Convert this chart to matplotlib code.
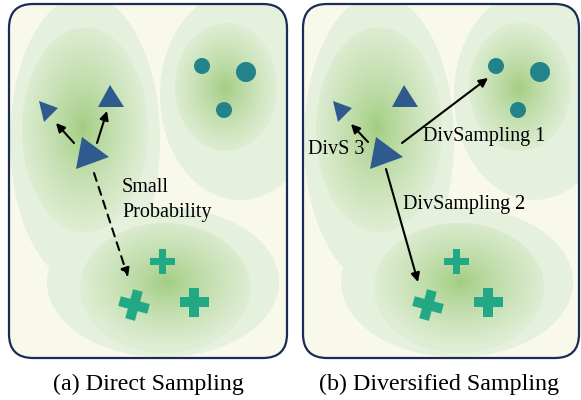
import numpy as np
import matplotlib
matplotlib.use('Agg')
import matplotlib.pyplot as plt
from matplotlib.patches import FancyBboxPatch, Ellipse, Polygon, Circle

plt.rcParams['font.family'] = ['Liberation Serif', 'DejaVu Serif']

# panel frames (pixels)
panel_x = [9, 303]
panel_y = 4
panel_w = [278, 276]
panel_h = 354
offsets = [0, 294]          # panel (b) repeats the layout of (a)
captions = ['(a) Direct Sampling', '(b) Diversified Sampling']
caption_x = [148, 439]
caption_y = 384

# light outer blobs: cx, cy, w, h   (panel a coords)
outer_blobs = [(85, 140, 150, 290), (240, 95, 160, 210), (163, 282, 232, 150)]
# gradient blobs: cx, cy, w, h, gx, gy
inner_blobs = [(85, 130, 126, 205, 83, 128),
               (226, 87, 102, 128, 225, 88),
               (165, 288, 170, 130, 167, 282)]

# triangles (vertices)
triangles = [[(82, 137), (109, 157), (76, 169)],
             [(39, 101), (58, 108), (44, 122)],
             [(110, 85), (124, 107), (98, 107)]]
# circles: x, y, r
circles_x = [202, 246, 224]
circles_y = [66, 72, 110]
circles_r = [8, 10, 8]
# crosses: x, y, size, thickness, angle
crosses_x = [162, 194, 134]
crosses_y = [261, 302, 305]
crosses_s = [25, 29, 30]
crosses_t = [7, 10, 10]
crosses_a = [0, 0, 15]

# arrows in (a)
arrows_a = [((74, 143), (56, 123)), ((97, 143), (107, 111))]
dashed_a = ((94, 173), (128, 277))
label_a = ['Small', 'Probability']
label_a_x = 122
label_a_y = [188, 213]

# arrows and labels in (b) (absolute pixels)
arrows_b = [((402, 143), (488, 78)), ((368, 142), (351, 124)), ((386, 169), (418, 282))]
labels_b = ['DivSampling 1', 'DivS 3', 'DivSampling 2']
labels_b_xy = [(423, 137), (308, 149), (403, 205)]

bg = '#f8f8eb'
outer_col = np.array([229, 240, 221]) / 255
edge_col = np.array([222, 237, 211]) / 255
center_col = np.array([160, 204, 128]) / 255
tri_col = '#2e5a8e'
circ_col = '#22838a'
cross_col = '#22a884'
border_col = '#1a2d55'

fig = plt.figure(figsize=(5.81, 4.0), dpi=100)
ax = fig.add_axes([0, 0, 1, 1])
ax.set_xlim(0, 581)
ax.set_ylim(400, 0)
ax.axis('off')


def plus_poly(cx, cy, s, t, ang):
    h, k = s / 2, t / 2
    pts = np.array([(-k, -h), (k, -h), (k, -k), (h, -k), (h, k), (k, k),
                    (k, h), (-k, h), (-k, k), (-h, k), (-h, -k), (-k, -k)])
    a = np.deg2rad(ang)
    R = np.array([[np.cos(a), -np.sin(a)], [np.sin(a), np.cos(a)]])
    return pts @ R.T + [cx, cy]


for p in range(2):
    dx = offsets[p]
    frame = FancyBboxPatch((panel_x[p], panel_y), panel_w[p], panel_h,
                           boxstyle='round,pad=0,rounding_size=24',
                           fc=bg, ec='none', zorder=1)
    ax.add_patch(frame)

    for cx, cy, w, h in outer_blobs:
        e = Ellipse((cx + dx, cy), w, h, fc=outer_col, ec='none', zorder=2)
        ax.add_patch(e)
        e.set_clip_path(frame)

    for cx, cy, w, h, gx, gy in inner_blobs:
        x0, x1 = cx + dx - w / 2, cx + dx + w / 2
        y0, y1 = cy - h / 2, cy + h / 2
        xx, yy = np.meshgrid(np.linspace(x0, x1, 200), np.linspace(y0, y1, 200))
        r = np.sqrt(((xx - gx - dx) / (w / 2)) ** 2 + ((yy - gy) / (h / 2)) ** 2)
        t = np.clip(r, 0, 1)[..., None] ** 0.8
        img = center_col * (1 - t) + edge_col * t
        im = ax.imshow(img, extent=(x0, x1, y1, y0), origin='upper',
                       zorder=3, interpolation='bilinear')
        e = Ellipse((cx + dx, cy), w, h, fc='none', ec='none', transform=ax.transData)
        im.set_clip_path(e)
    ax.set_xlim(0, 581)
    ax.set_ylim(400, 0)
    ax.set_aspect('auto')

    border = FancyBboxPatch((panel_x[p], panel_y), panel_w[p], panel_h,
                            boxstyle='round,pad=0,rounding_size=24',
                            fc='none', ec=border_col, lw=1.6, zorder=10)
    ax.add_patch(border)

    for tri in triangles:
        ax.add_patch(Polygon([(x + dx, y) for x, y in tri], closed=True,
                             fc=tri_col, ec='none', zorder=6))
    for x, y, r in zip(circles_x, circles_y, circles_r):
        ax.add_patch(Circle((x + dx, y), r, fc=circ_col, ec='none', zorder=6))
    for x, y, s, t, a in zip(crosses_x, crosses_y, crosses_s, crosses_t, crosses_a):
        ax.add_patch(Polygon(plus_poly(x + dx, y, s, t, a), closed=True,
                             fc=cross_col, ec='none', zorder=6))

    ax.text(caption_x[p], caption_y, captions[p], fontsize=17.3,
            ha='center', va='center', zorder=11)

# panel (a) arrows
for s, e in arrows_a:
    ax.annotate('', xy=e, xytext=s, zorder=7,
                arrowprops=dict(arrowstyle='-|>', lw=1.5, color='black',
                                mutation_scale=13, shrinkA=0, shrinkB=0))
ax.annotate('', xy=dashed_a[1], xytext=dashed_a[0], zorder=7,
            arrowprops=dict(arrowstyle='-|>', lw=1.5, color='black', ls=(0, (4, 3)),
                            mutation_scale=13, shrinkA=0, shrinkB=0))
for txt, ly in zip(label_a, label_a_y):
    ax.text(label_a_x, ly, txt, fontsize=14.5, ha='left', va='center', zorder=8)

# panel (b) arrows
for (s, e), lab, (lx, ly) in zip(arrows_b, labels_b, labels_b_xy):
    ax.annotate('', xy=e, xytext=s, zorder=7,
                arrowprops=dict(arrowstyle='-|>', lw=1.5, color='black',
                                mutation_scale=13, shrinkA=0, shrinkB=0))
    ax.text(lx, ly, lab, fontsize=14.5, ha='left', va='center', zorder=8)

fig.savefig('out.png', dpi=100)
